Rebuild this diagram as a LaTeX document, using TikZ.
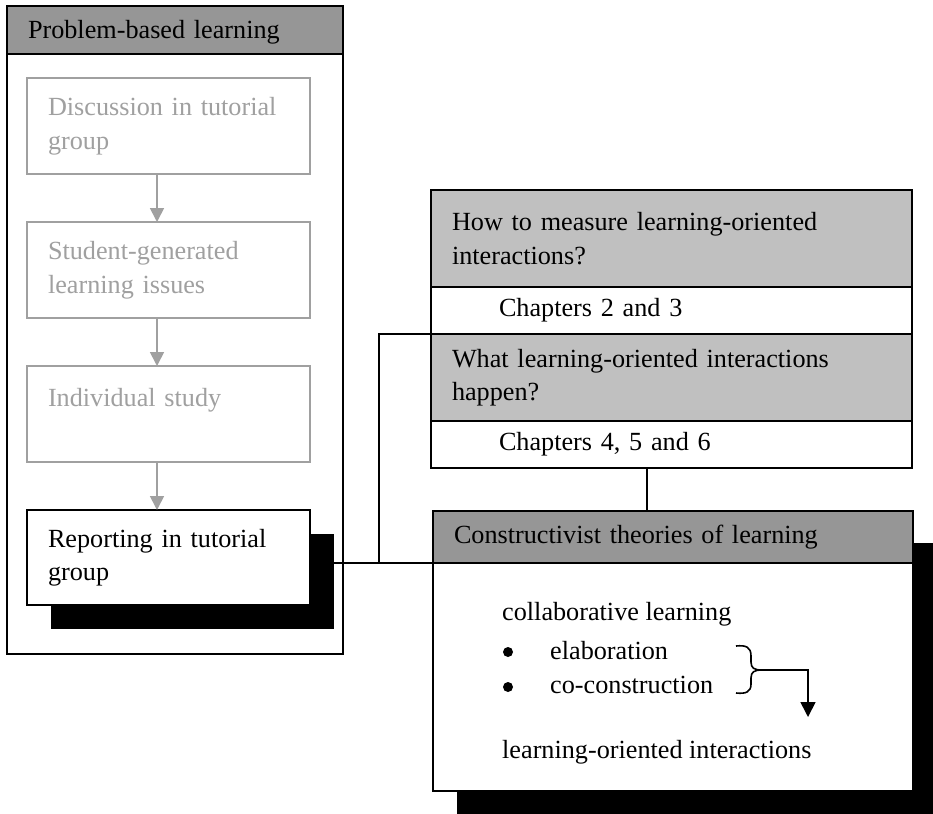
\documentclass[tikz,border=0pt]{standalone}
\usepackage{fontspec}
\setmainfont{Liberation Serif}
\usetikzlibrary{positioning,arrows.meta,calc,shadows}
\definecolor{ink}{HTML}{000000}
\definecolor{faded}{HTML}{A0A0A0}
\definecolor{hdrgrey}{HTML}{969696}
\definecolor{qgrey}{HTML}{C0C0C0}
\tikzset{
  doc/.style={font=\fontsize{26.2}{33.5}\selectfont, text=ink},
  panel/.style={draw=ink, fill=white, line width=2pt, inner sep=0pt, outer sep=0pt, anchor=north west},
  hdr/.style={draw=ink, fill=#1, line width=2pt, outer sep=0pt, inner xsep=21pt, inner ysep=0pt,
    align=left, anchor=north west, doc},
  hdr/.default=hdrgrey,
  stage/.style={draw=faded, fill=white, line width=1.7pt, outer sep=0pt, inner xsep=21pt, inner ysep=0pt,
    text width=241pt, minimum height=96pt, align=left, doc, text=faded},
  chap/.style={draw=ink, fill=white, line width=2pt, outer sep=0pt, inner xsep=68pt, inner ysep=0pt,
    text width=345pt, minimum height=47pt, align=left, doc},
  dropsh/.style={general shadow={shadow xshift=#1, shadow yshift=-#1, fill=ink}},
  flow/.style={-{Triangle[length=14pt,width=14pt]}, line width=1.7pt, color=faded},
  link/.style={line width=2pt, color=ink},
  txt/.style={doc, inner sep=0pt, anchor=base west},
  dot/.style={circle, fill=ink, inner sep=0pt, minimum size=10pt},
}
\begin{document}
\begin{tikzpicture}[x=1pt,y=-1pt]
  \useasboundingbox (0,0) rectangle (933,813);
  % problem-based learning cycle
  \node[panel, minimum width=336pt, minimum height=648pt] (pbl) at (7,6) {};
  \node[hdr, text width=294pt, minimum height=48pt, text depth=2pt] (pblhead) at (7,6) {Problem-based learning};
  \node[stage, anchor=north west] (disc) at (27,78) {Discussion in tutorial\\group};
  \node[stage, below=48pt of disc] (issues) {Student-generated\\learning issues};
  \node[stage, below=48pt of issues] (study) {Individual study\\~};
  \node[stage, below=48pt of study, draw=ink, text=ink, line width=2pt, minimum height=95pt,
    dropsh=23.5pt] (report) {Reporting in tutorial\\group};
  \draw[flow] ([xshift=-11.5pt]disc.south) -- ([xshift=-11.5pt]issues.north);
  \draw[flow] ([xshift=-11.5pt]issues.south) -- ([xshift=-11.5pt]study.north);
  \draw[flow] ([xshift=-11.5pt]study.south) -- ([xshift=-11.5pt]report.north);
  % research questions
  \node[hdr=qgrey, text width=439pt, minimum height=97pt] (how) at (431,190) {How to measure learning-oriented\\interactions?};
  \node[chap, below=0pt of how] (ch23) {Chapters 2 and 3};
  \node[hdr=qgrey, text width=439pt, minimum height=87pt, below=0pt of ch23] (what) {What learning-oriented interactions\\happen?};
  \node[chap, below=0pt of what] (ch456) {Chapters 4, 5 and 6};
  % theory
  \node[panel, minimum width=480pt, minimum height=280pt,
    general shadow={shadow xshift=24pt, shadow yshift=-32pt, fill=ink}] (conbox) at (433,511) {};
  \node[hdr, text width=438pt, minimum height=52pt] (conhead) at (433,511) {Constructivist theories of learning};
  \node[txt] (collab) at (502,620) {collaborative learning};
  \node[dot] (dot1) at (508,652) {};
  \node[txt] (elab) at (550,659) {elaboration};
  \node[dot] (dot2) at (508,687) {};
  \node[txt] (cocon) at (550,693) {co-construction};
  \node[txt] (loi) at (502,758) {learning-oriented interactions};
  \draw[line width=1.6pt] (736,646) .. controls (746,645) and (751,647) .. (751,656) -- (751,662)
    .. controls (751,668) and (754,670) .. (762,670)
    .. controls (754,670) and (751,672) .. (751,678) -- (751,684)
    .. controls (751,692) and (746,694) .. (736,693);
  \coordinate (btip) at (762,670);
  \coordinate (aend) at (808,717);
  \draw[link, line width=1.7pt, -{Triangle[length=15pt,width=15pt]}] (btip) -| (aend);
  % connections
  \draw[link] (report.east |- conhead.south) -- (conhead.south west);
  \draw[link] (what.north west) -| ([xshift=-54pt]conhead.south west);
  \draw[link] ([xshift=-25pt]ch456.south) -- ([xshift=-25pt]ch456.south |- conhead.north);
\end{tikzpicture}
\end{document}
